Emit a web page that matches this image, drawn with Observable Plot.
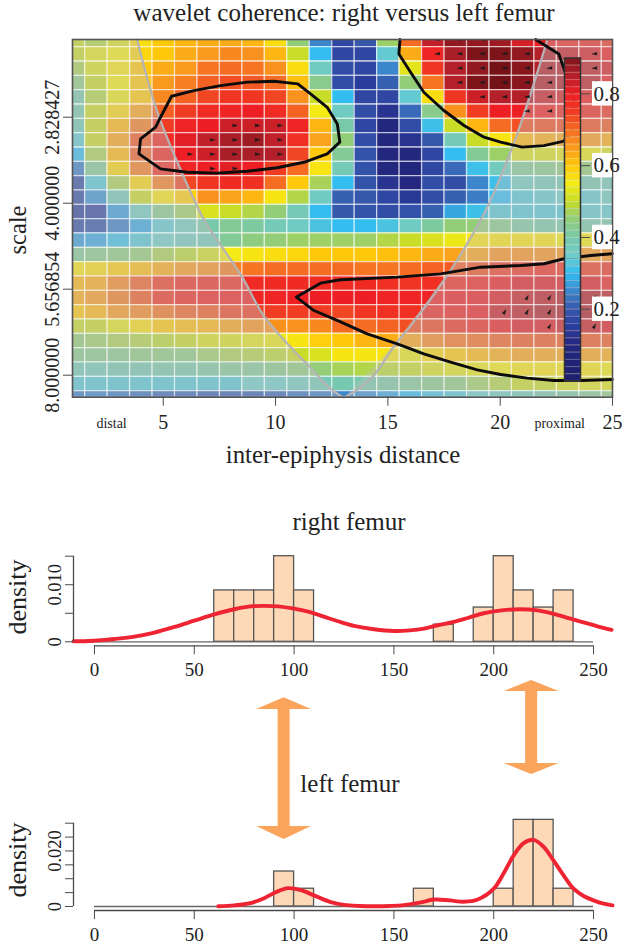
<!DOCTYPE html>
<html><head><meta charset="utf-8">
<script src="https://cdn.jsdelivr.net/npm/d3@7"></script>
<script src="https://cdn.jsdelivr.net/npm/@observablehq/plot@0.6"></script>
<style>
html,body{margin:0;padding:0;background:#fff}
#page{position:relative;width:622px;height:945px;overflow:hidden;font-family:"Liberation Serif",serif;color:#222}
#page>svg{position:absolute;left:0;background:transparent}
#page svg text{font-family:"Liberation Serif",serif}
.t{position:absolute;white-space:nowrap;transform:translate(-50%,-50%)}
</style></head><body><div id="page"></div>
<script>
const serif='"Liberation Serif",serif', ink="#4a4a4a";
// ---- wavelet coherence (rows top to bottom, columns 1..25)
const coherence=[
[.50,.48,.52,.57,.60,.62,.63,.63,.62,.57,.45,.25,.17,.20,.46,.70,.84,.88,.88,.87,.82,.80,.78,.78,.76],
[.50,.53,.55,.58,.60,.63,.65,.67,.66,.62,.50,.30,.17,.17,.34,.63,.79,.86,.90,.90,.88,.85,.83,.82,.80],
[.47,.52,.56,.60,.63,.65,.69,.70,.69,.66,.57,.36,.18,.17,.25,.53,.76,.85,.88,.91,.89,.85,.85,.84,.82],
[.44,.50,.55,.60,.65,.68,.71,.73,.72,.70,.61,.43,.18,.15,.21,.45,.69,.85,.90,.91,.89,.85,.85,.84,.80],
[.40,.48,.54,.60,.67,.71,.74,.76,.76,.74,.66,.50,.30,.17,.17,.34,.57,.76,.83,.85,.85,.83,.82,.80,.79],
[.40,.50,.58,.64,.71,.75,.78,.79,.80,.78,.71,.55,.36,.18,.13,.22,.43,.66,.75,.80,.80,.79,.78,.78,.76],
[.38,.50,.62,.68,.75,.79,.80,.83,.83,.83,.79,.62,.40,.17,.10,.18,.31,.50,.62,.70,.73,.73,.73,.73,.72],
[.34,.50,.64,.72,.78,.81,.84,.86,.87,.84,.77,.64,.45,.18,.10,.13,.20,.38,.50,.56,.62,.63,.64,.65,.63],
[.30,.47,.62,.71,.78,.80,.83,.86,.86,.85,.74,.60,.42,.19,.10,.10,.17,.30,.42,.46,.52,.52,.53,.54,.52],
[.24,.42,.58,.68,.77,.79,.80,.81,.80,.75,.70,.56,.38,.19,.10,.09,.17,.22,.31,.37,.42,.43,.44,.45,.44],
[.18,.33,.47,.58,.68,.74,.76,.78,.77,.70,.60,.47,.30,.19,.13,.10,.18,.18,.25,.31,.36,.38,.39,.39,.38],
[.18,.26,.38,.50,.56,.59,.66,.64,.62,.56,.48,.36,.21,.20,.17,.14,.18,.21,.24,.30,.33,.34,.35,.34,.36],
[.16,.17,.27,.36,.43,.46,.52,.50,.48,.45,.38,.30,.20,.19,.18,.19,.21,.28,.31,.33,.33,.33,.33,.34,.34],
[.18,.19,.24,.28,.34,.37,.40,.42,.41,.38,.36,.32,.30,.30,.32,.36,.41,.45,.45,.43,.41,.40,.40,.40,.40],
[.27,.28,.31,.33,.35,.37,.38,.42,.44,.45,.46,.46,.46,.46,.48,.50,.52,.54,.56,.56,.56,.56,.55,.55,.55],
[.42,.43,.44,.45,.47,.49,.51,.55,.56,.57,.58,.60,.60,.60,.61,.62,.63,.64,.64,.66,.66,.66,.66,.65,.66],
[.56,.57,.59,.61,.63,.65,.66,.68,.69,.70,.70,.70,.70,.69,.69,.70,.71,.72,.73,.75,.76,.77,.76,.75,.76],
[.62,.63,.67,.71,.75,.77,.77,.77,.78,.78,.78,.78,.78,.78,.77,.76,.77,.78,.79,.80,.81,.81,.81,.81,.79],
[.63,.65,.68,.72,.76,.78,.79,.79,.79,.79,.80,.80,.80,.80,.79,.79,.79,.80,.80,.81,.83,.84,.85,.85,.84],
[.60,.62,.65,.67,.69,.71,.72,.74,.75,.75,.75,.75,.74,.76,.77,.77,.78,.79,.80,.83,.84,.85,.85,.85,.83],
[.50,.50,.53,.57,.60,.61,.62,.64,.66,.66,.66,.67,.70,.70,.71,.73,.74,.76,.78,.80,.81,.81,.83,.83,.81],
[.45,.46,.47,.48,.49,.50,.52,.52,.53,.54,.56,.59,.60,.62,.63,.64,.67,.69,.70,.71,.72,.72,.72,.72,.72],
[.43,.43,.43,.44,.44,.44,.46,.47,.48,.49,.50,.52,.56,.56,.56,.54,.58,.60,.62,.63,.64,.64,.64,.64,.63],
[.38,.38,.39,.39,.40,.40,.41,.42,.42,.43,.44,.45,.47,.48,.49,.50,.52,.53,.54,.55,.56,.56,.56,.56,.55],
[.33,.33,.33,.33,.33,.33,.33,.33,.35,.35,.36,.38,.39,.40,.41,.42,.43,.44,.46,.48,.50,.50,.52,.53,.53],
[.24,.25,.24,.23,.22,.22,.21,.21,.21,.22,.23,.24,.25,.26,.28,.30,.32,.33,.35,.36,.38,.40,.41,.42,.44]
];
const colorStops=[0,.10,.15,.20,.25,.30,.35,.40,.45,.50,.55,.60,.65,.70,.75,.80,.85,.90,.92];
const colorRange=["#1d1f6e","#23277e","#2b3d9c","#3557ac","#3c87cc","#33bdf0","#6ecdc8","#78c8aa","#93cd78","#c8dc28","#f5eb14","#ffc80a","#fa9a1e","#f56c23","#f03c23","#ee1f24","#b4202a","#7d1419","#6a1016"];
const firstRow=1.048, rowStep=1/12;
const xTicks=[5,10,15,20,25];
const yTicks=[1.5,2,2.5,3];
// cone of influence
const coneLeftX=[3.84,4.82,5.85,6.79,8.52,9.47,11.47,12.80,13.0];
const coneLeftY=[1.048,1.5,1.827,2.089,2.43,2.653,2.944,3.112,3.128];
const coneRightX=[22.1,20.54,19.35,17.79,15.47,13.1,13.0];
const coneRightY=[1.048,1.674,2.042,2.391,2.798,3.128,3.128];
// contours
const blobX=[5.37,4.88,4.66,3.99,3.92,4.88,6.07,7.40,8.74,10.07,11.26,12.30,12.86,12.75,12.30,11.56,10.99,9.93,8.74,7.55,6.36,5.37];
const blobY=[1.378,1.5,1.558,1.626,1.713,1.8,1.82,1.825,1.814,1.794,1.762,1.713,1.645,1.539,1.442,1.364,1.306,1.291,1.296,1.316,1.345,1.378];
const topX=[15.54,15.49,16.01,16.60,17.49,18.39,19.28,20.02,20.98,21.95,22.84,23.21,23.28,22.87,22.61,21.58];
const topY=[1.048,1.132,1.238,1.355,1.461,1.548,1.616,1.645,1.674,1.665,1.639,1.577,1.384,1.229,1.132,1.048];
const lowX=[24.99,24.03,22.84,21.95,20.91,19.13,17.35,15.42,12.89,12.0,10.93,11.71,12.82,14.08,15.42,16.60,17.79,18.98,20.02,21.2,22.39,23.58,24.99];
const lowY=[2.294,2.304,2.323,2.352,2.362,2.372,2.411,2.430,2.445,2.465,2.546,2.624,2.686,2.760,2.818,2.876,2.924,2.969,2.996,3.017,3.031,3.031,3.025];
// significance arrows: [column,row]
const arrowsRight=[[8,6],[9,6],[10,6],[7,7],[8,7],[9,7],[10,7],[6,8],[7,8],[8,8],[9,8],[10,8],[7,9],[8,9]];
const arrowsLeft=[[17,0],[18,0],[19,0],[17,1],[18,1],[19,1],[20,1],[21,1],[24,1],[25,1],[18,2],[19,2],[20,2],[21,2],[22,2],[23,2],[24,2],[25,2],[18,3],[19,3],[20,3],[21,3],[22,3],[24,3],[19,4],[20,4],[21,4],[22,4],[23,4],[24,4],[21,5],[22,5]];
const arrowsUp=[[21,18],[22,18],[24,18],[20,19],[21,19],[22,19],[24,19],[22,20],[24,20]];
const barTicks=[.2,.4,.6,.8];
const barEdges=d3.range(0,45).map(i=>i*.02);
// ---- histograms
const binStart=[60,70,80,90,100,170,190,200,210,220,230];
const rightDensity=[.009,.009,.009,.015,.009,.003,.006,.015,.009,.006,.009];
const rightCurveX=[-10.5,-5,0,10,20,30,40,50,60,70,78,85,92,100,108,115,122,130,140,150,158,165,172,180,188,195,204,213,222,230,238,245,252,259];
const rightCurveY=[.0001,.0001,.0002,.0005,.0009,.0016,.0026,.0037,.0048,.0057,.0062,.0063,.0062,.0058,.0052,.0044,.0036,.0028,.0022,.0019,.0020,.0023,.0029,.0035,.0043,.0050,.0055,.0057,.0055,.0049,.0041,.0034,.0027,.0021];
const leftBinStart=[90,100,160,200,210,220,230];
const leftDensity=[.0126,.0064,.0064,.0064,.0312,.0312,.0064];
const leftCurveX=[62,70,78,85,91,97,103,110,118,125,133,140,148,155,163,170,178,185,192,200,205,210,215,220,225,230,235,240,245,250,255,259.5];
const leftCurveY=[.0001,.0004,.0012,.0030,.0052,.0066,.0060,.0040,.0017,.0006,.0002,.0001,.0002,.0005,.0014,.0025,.0022,.0017,.0025,.0064,.0120,.0184,.0228,.0240,.0215,.0165,.0112,.0064,.0038,.0022,.0010,.0004];
const topTicks=[0,.005,.010,.015], lowTicks=[0,.005,.010,.015,.020,.025,.030];
const distTicks=[0,50,100,150,200,250];
// double arrows, in axis units across the gap between the histograms
const arrowLeftCentre=95, arrowRightCentre=219, headHalf=13.75, shaftHalf=3;
const arrowLeftStops=[97.3,109,109,226,226,239], arrowRightStops=[80,91,91,163,163,174];
const colorScale={type:"linear",domain:colorStops,range:colorRange,clamp:true};
const page=document.getElementById("page");
function place(svg,top){svg.style.top=top+"px";page.appendChild(svg);}
function label(txt,x,y,size,rot){const d=document.createElement("div");d.className="t";d.textContent=txt;
  d.style.left=x+"px";d.style.top=y+"px";d.style.fontSize=size+"px";if(rot)d.style.transform="translate(-50%,-50%) rotate(-90deg)";page.appendChild(d);}

const cells=coherence.flatMap((row,r)=>row.map((v,c)=>({c:c+1,r,v})));
const yOf=r=>firstRow+r*rowStep;
const pts=(X,Y)=>X.map((x,i)=>({x,y:Y[i]}));
const vec=(list,rotate)=>Plot.vector(list,{x:d=>d[0]+.2,y:d=>yOf(d[1]),length:5,r:1.4,rotate,anchor:"middle",shape:"spike",fill:"#1a1a1a",stroke:"#1a1a1a",strokeWidth:.4,clip:true});

place(Plot.plot({
  width:622,height:470,marginLeft:72,marginRight:10,marginTop:39,marginBottom:73.3,
  style:{fontFamily:serif,background:"transparent",overflow:"visible"},
  x:{domain:[.96,25]},y:{domain:[3.128,1.048]},color:colorScale,
  marks:[
    Plot.rect(cells,{x1:d=>d.c-.5,x2:d=>d.c+.5,y1:d=>yOf(d.r)-rowStep/2,y2:d=>yOf(d.r)+rowStep/2,fill:"v",clip:true}),
    Plot.areaX(pts(coneLeftX,coneLeftY),{x1:.96,x2:"x",y:"y",fill:"#bebebe",fillOpacity:.4}),
    Plot.areaX(pts(coneRightX,coneRightY),{x1:"x",x2:25,y:"y",fill:"#bebebe",fillOpacity:.4}),
    Plot.ruleX(d3.range(1.5,25,1),{stroke:"#fff",strokeOpacity:.7,strokeWidth:1.3}),
    Plot.ruleY(d3.range(0,25).map(r=>yOf(r)+rowStep/2),{stroke:"#fff",strokeOpacity:.7,strokeWidth:1.3}),
    Plot.line(pts(coneLeftX,coneLeftY),{x:"x",y:"y",stroke:"#b4b4b4",strokeWidth:2.2,curve:"monotone-y"}),
    Plot.line(pts(coneRightX,coneRightY),{x:"x",y:"y",stroke:"#b4b4b4",strokeWidth:2.2,curve:"monotone-y"}),
    vec(arrowsRight,90),vec(arrowsLeft,265),vec(arrowsUp,30),
    Plot.line(pts(blobX,blobY),{x:"x",y:"y",stroke:"#0c0c0c",strokeWidth:2.9,strokeLinejoin:"round"}),
    Plot.line(pts(topX,topY),{x:"x",y:"y",stroke:"#0c0c0c",strokeWidth:2.9,strokeLinejoin:"round"}),
    Plot.line(pts(lowX,lowY),{x:"x",y:"y",stroke:"#0c0c0c",strokeWidth:2.9,strokeLinejoin:"round"}),
    Plot.frame({stroke:"#555",strokeWidth:1.6}),
    Plot.axisX({ticks:xTicks,tickSize:9,tickPadding:9,fontSize:20,stroke:ink,fill:"#222",label:null}),
    Plot.axisY({ticks:yTicks,tickFormat:d=>(2**d).toFixed(6),tickSize:9,tickPadding:5,tickRotate:-90,fontSize:20,stroke:ink,fill:"#222",label:null}),
    Plot.text(["distal"],{x:[2.7],frameAnchor:"bottom",dy:31,fontSize:14,fill:"#222"}),
    Plot.text(["proximal"],{x:[22.65],frameAnchor:"bottom",dy:31,fontSize:14,fill:"#222"})
  ]}),0);

place(Plot.plot({
  width:622,height:400,marginLeft:564,marginRight:42,marginTop:57.5,marginBottom:19.5,
  style:{fontFamily:serif,background:"transparent",overflow:"visible"},
  x:{domain:[0,1],axis:null},y:{domain:[0,.9]},color:colorScale,
  marks:[
    Plot.rect(barEdges,{x1:0,x2:1,y1:d=>d,y2:d=>d+.02,fill:d=>d+.01,clip:true}),
    Plot.ruleY(barEdges,{stroke:"#fff",strokeOpacity:.35,strokeWidth:.8}),
    Plot.frame({stroke:"#333",strokeWidth:1.5}),
    Plot.rect(barTicks,{x1:1.75,x2:3,y1:d=>d-.034,y2:d=>d+.034,fill:"#fff",clip:false}),
    Plot.axisY({anchor:"right",ticks:barTicks,tickFormat:d=>d.toFixed(1),tickSize:9,tickPadding:4,fontSize:21,stroke:ink,fill:"#222",label:null})
  ]}),0);

function histogram(starts,dens,cx,cy,yTickList,yLabels,yDomain,h,mt,mb,zeroFrom){
  const bins=starts.map((s,i)=>({s,d:dens[i]}));
  return Plot.plot({
    width:622,height:h,marginLeft:73,marginRight:10,marginTop:mt,marginBottom:mb,
    style:{fontFamily:serif,background:"transparent",overflow:"visible"},
    x:{domain:[-10.5,259.5]},y:{domain:yDomain},
    marks:[
      Plot.rect(bins,{x1:"s",x2:d=>d.s+10,y1:0,y2:"d",fill:"#fdd9b7",stroke:"#555",strokeWidth:1.3}),
      Plot.ruleY([0],{x1:zeroFrom,x2:250,stroke:"#666",strokeWidth:1.3}),
      Plot.line(pts(cx,cy),{x:"x",y:"y",stroke:"#ee2432",strokeWidth:3.9,curve:"catmull-rom"}),
      Plot.axisY({ticks:yTickList,tickFormat:d=>yLabels.includes(d)?(d===0?"0":d.toFixed(3)):"",tickSize:8,tickPadding:5,tickRotate:-90,fontSize:18.5,stroke:ink,fill:"#222",label:null}),
      Plot.ruleX([-10.5],{y1:yTickList[0],y2:yTickList[yTickList.length-1],stroke:ink,strokeWidth:1.3}),
      Plot.axisX({ticks:distTicks,tickSize:9,tickPadding:8,fontSize:19,stroke:ink,fill:"#222",label:null,dy:4}),
      Plot.ruleY([0],{x1:0,x2:250,dy:4,stroke:ink,strokeWidth:1.3})
    ]});
}
place(histogram(binStart,rightDensity,rightCurveX,rightCurveY,topTicks,[0,.01],[0,.015],140,15.7,38.7,-10.5),540);
place(histogram(leftBinStart,leftDensity,leftCurveX,leftCurveY,lowTicks,[0,.02],[0,.030],145,22.7,39,0),800);

const arrowShape=(c,stops)=>stops.map((y,i)=>({y,hw:[0,headHalf,shaftHalf,shaftHalf,headHalf,0][i],c}));
place(Plot.plot({
  width:622,height:250,marginLeft:73,marginRight:10,marginTop:0,marginBottom:0,
  style:{background:"transparent"},
  x:{domain:[-10.5,259.5],axis:null},y:{domain:[250,0],range:[250,0],axis:null},
  marks:[
    Plot.areaX(arrowShape(arrowLeftCentre,arrowLeftStops),{y:"y",x1:d=>d.c-d.hw,x2:d=>d.c+d.hw,fill:"#fba45c"}),
    Plot.areaX(arrowShape(arrowRightCentre,arrowRightStops),{y:"y",x1:d=>d.c-d.hw,x2:d=>d.c+d.hw,fill:"#fba45c"})
  ]}),600);

label("wavelet coherence: right versus left femur",344,13,25);
label("scale",18,230,24.5,true);
label("inter-epiphysis distance",343,455,24.8);
label("right femur",349,522,25);
label("left femur",350,784,25);
label("density",18,597,26,true);
label("density",18,860,26,true);
</script></body></html>
